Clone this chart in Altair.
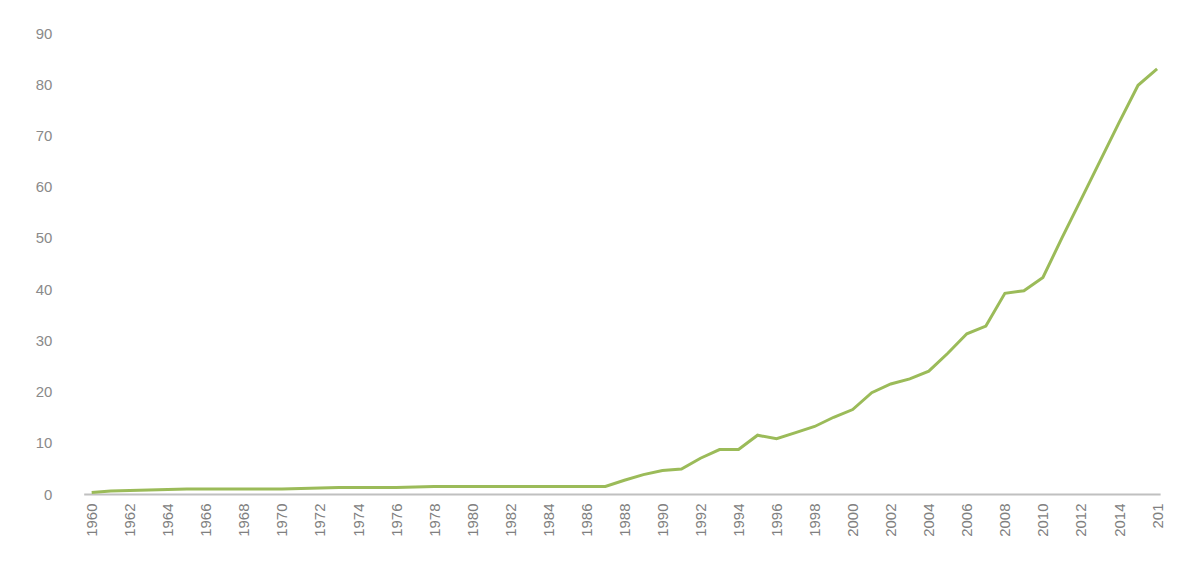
import altair as alt
import pandas as pd

years = list(range(1960, 2017))
values = [0.3, 0.6, 0.7, 0.8, 0.9, 1.0, 1.0, 1.0, 1.0, 1.0,
          1.0, 1.1, 1.2, 1.3, 1.3, 1.3, 1.3, 1.4, 1.5, 1.5,
          1.5, 1.5, 1.5, 1.5, 1.5, 1.5, 1.5, 1.5, 2.7, 3.8,
          4.6, 4.9, 7.0, 8.7, 8.7, 11.5, 10.8, 12.0, 13.2, 15.0,
          16.5, 19.8, 21.5, 22.5, 24.0, 27.5, 31.3, 32.8, 39.2, 39.7,
          42.3, 50.0, 57.5, 65.0, 72.5, 79.8, 83.0]
tick_years = list(range(1960, 2017, 2))
y_ticks = list(range(0, 91, 10))

df = pd.DataFrame({"year": years, "value": values})

chart = alt.Chart(df).mark_line(color="#9bbb59", strokeWidth=3).encode(
    x=alt.X("year:Q",
            scale=alt.Scale(domain=[1959.58, 2016.16], nice=False, zero=False),
            axis=alt.Axis(values=tick_years, format="d", labelAngle=-90,
                          labelAlign="right", labelBaseline="middle",
                          labelPadding=9, ticks=False, grid=False,
                          domainColor="#c0c0c0", domainWidth=2,
                          labelColor="#808080", labelFontSize=15,
                          labelFont="Liberation Sans", labelOverlap=False,
                          labelExpr="datum.value == 2016 ? '201' : datum.label",
                          title=None)),
    y=alt.Y("value:Q",
            scale=alt.Scale(domain=[0, 90], nice=False),
            axis=alt.Axis(values=y_ticks, ticks=False, domain=False, grid=False,
                          labelPadding=32, labelColor="#8a8a8a", labelFontSize=15,
                          labelFont="Liberation Sans", title=None)),
).properties(
    width=1081, height=463,
    autosize=alt.AutoSizeParams(type="none"),
    padding={"left": 76, "top": 24, "right": 30, "bottom": 60},
).configure_view(stroke=None)

chart.save("out.html", embed_options={"renderer": "svg", "actions": False})
